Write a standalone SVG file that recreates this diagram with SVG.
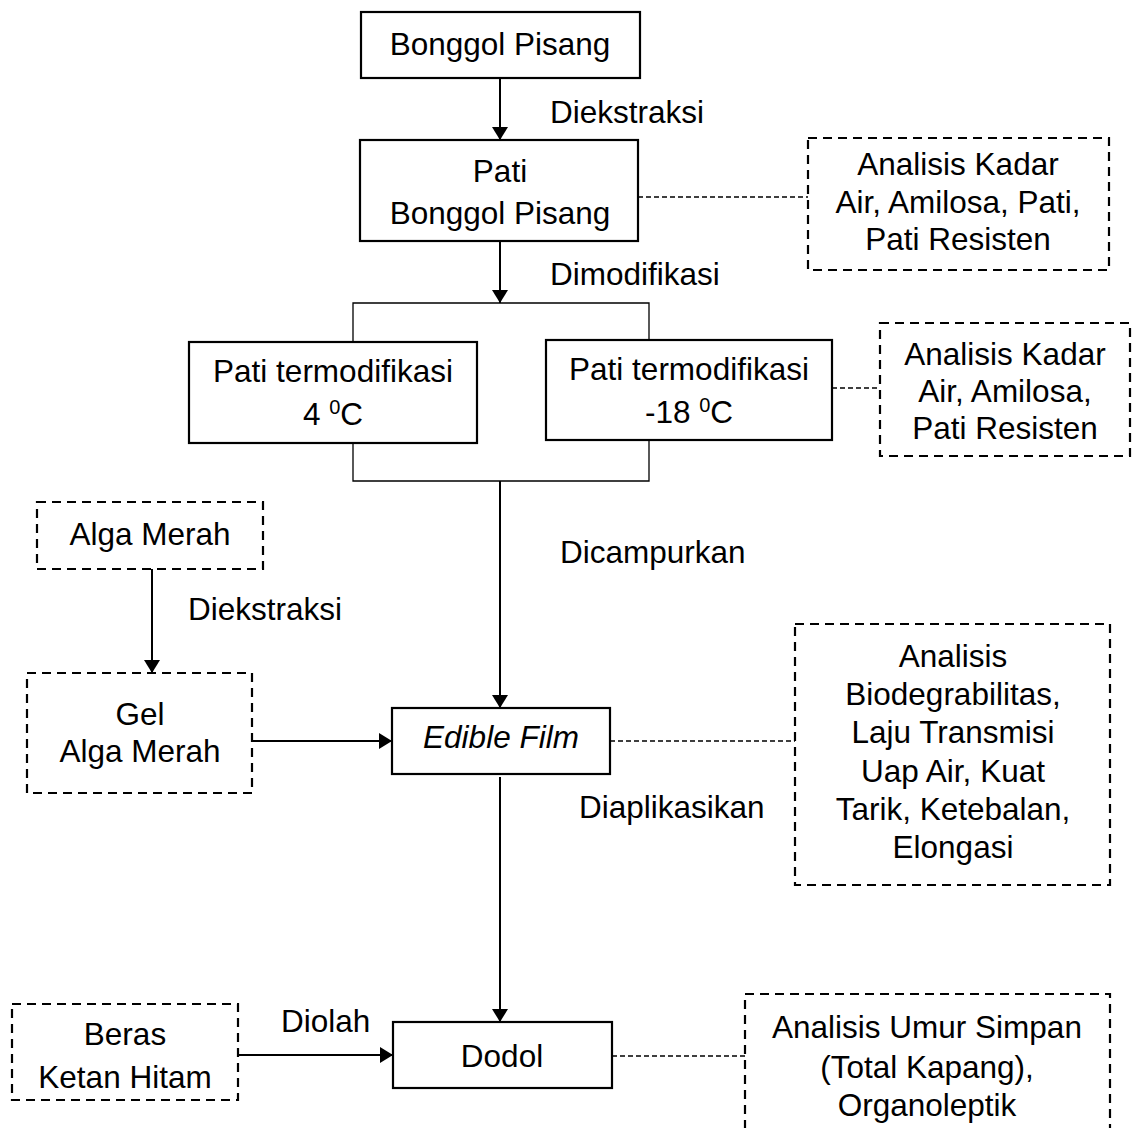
<svg xmlns="http://www.w3.org/2000/svg" width="1133" height="1128" viewBox="0 0 1133 1128">
<style>
text{font-family:"Liberation Sans",Arial,sans-serif;font-size:31.5px;fill:#000;text-anchor:middle}
.lbl{text-anchor:start}
.box{fill:#fff;stroke:#000;stroke-width:2.2}
.dbox{fill:#fff;stroke:#000;stroke-width:2.2;stroke-dasharray:9 6}
.ln{stroke:#000;stroke-width:2;fill:none}
.br{stroke:#000;stroke-width:1.3;fill:none}
.dot{stroke:#000;stroke-width:1.3;stroke-dasharray:5 3;fill:none}
.sup{font-size:20px}
</style>
<defs>
<marker id="ah" markerWidth="16" markerHeight="16" refX="13" refY="8" orient="auto" markerUnits="userSpaceOnUse">
<path d="M0,0 L13,8 L0,16 Z" fill="#000"/>
</marker>
</defs>
<g id="connectors">
<line class="ln" x1="500" y1="78" x2="500" y2="140" marker-end="url(#ah)"/>
<line class="ln" x1="500" y1="241" x2="500" y2="303" marker-end="url(#ah)"/>
<polyline class="br" points="353,342 353,303 649,303 649,340"/>
<polyline class="br" points="353,443 353,481 649,481 649,440"/>
<line class="ln" x1="500" y1="481" x2="500" y2="708" marker-end="url(#ah)"/>
<line class="ln" x1="152" y1="569" x2="152" y2="673" marker-end="url(#ah)"/>
<line class="ln" x1="252" y1="741" x2="392" y2="741" marker-end="url(#ah)"/>
<line class="ln" x1="500" y1="777" x2="500" y2="1022" marker-end="url(#ah)"/>
<line class="ln" x1="238" y1="1055" x2="393" y2="1055" marker-end="url(#ah)"/>
<line class="dot" x1="638" y1="197" x2="808" y2="197"/>
<line class="dot" x1="832" y1="388" x2="880" y2="388"/>
<line class="dot" x1="610" y1="741" x2="795" y2="741"/>
<line class="dot" x1="612" y1="1056" x2="745" y2="1056"/>
<text class="lbl" x="550" y="123">Diekstraksi</text>
<text class="lbl" x="550" y="285">Dimodifikasi</text>
<text class="lbl" x="560" y="563">Dicampurkan</text>
<text class="lbl" x="188" y="620">Diekstraksi</text>
<text class="lbl" x="579" y="818">Diaplikasikan</text>
<text class="lbl" x="281" y="1032">Diolah</text>
</g>
<g id="bonggol">
<rect class="box" x="361" y="12" width="279" height="66"/>
<text x="500" y="55">Bonggol Pisang</text>
</g>
<g id="pati">
<rect class="box" x="360" y="140" width="278" height="101"/>
<text x="500" y="182">Pati</text>
<text x="500" y="224">Bonggol Pisang</text>
</g>
<g id="analisis1">
<rect class="dbox" x="808" y="138" width="301" height="132"/>
<text x="958" y="175">Analisis Kadar</text>
<text x="958" y="213">Air, Amilosa, Pati,</text>
<text x="958" y="250">Pati Resisten</text>
</g>
<g id="pati4">
<rect class="box" x="189" y="342" width="288" height="101"/>
<text x="333" y="382">Pati termodifikasi</text>
<text x="333" y="425">4 <tspan class="sup" dy="-11">0</tspan><tspan dy="11">C</tspan></text>
</g>
<g id="pati18">
<rect class="box" x="546" y="340" width="286" height="100"/>
<text x="689" y="380">Pati termodifikasi</text>
<text x="689" y="423">-18 <tspan class="sup" dy="-11">0</tspan><tspan dy="11">C</tspan></text>
</g>
<g id="analisis2">
<rect class="dbox" x="880" y="323" width="250" height="133"/>
<text x="1005" y="365">Analisis Kadar</text>
<text x="1005" y="402">Air, Amilosa,</text>
<text x="1005" y="439"> Pati Resisten</text>
</g>
<g id="alga">
<rect class="dbox" x="37" y="502" width="226" height="67"/>
<text x="150" y="545">Alga Merah</text>
</g>
<g id="gel">
<rect class="dbox" x="27" y="673" width="225" height="120"/>
<text x="140" y="725">Gel</text>
<text x="140" y="762">Alga Merah</text>
</g>
<g id="edible">
<rect class="box" x="392" y="708" width="218" height="66"/>
<text x="501" y="748" font-style="italic">Edible Film</text>
</g>
<g id="analisis3">
<rect class="dbox" x="795" y="624" width="315" height="261"/>
<text x="953" y="667">Analisis</text>
<text x="953" y="705">Biodegrabilitas,</text>
<text x="953" y="743">Laju Transmisi</text>
<text x="953" y="782">Uap Air, Kuat</text>
<text x="953" y="820">Tarik, Ketebalan,</text>
<text x="953" y="858">Elongasi</text>
</g>
<g id="beras">
<rect class="dbox" x="12" y="1004" width="226" height="96"/>
<text x="125" y="1045">Beras</text>
<text x="125" y="1088">Ketan Hitam</text>
</g>
<g id="dodol">
<rect class="box" x="393" y="1022" width="219" height="66"/>
<text x="502" y="1067">Dodol</text>
</g>
<g id="analisis4">
<rect class="dbox" x="745" y="994" width="365" height="160"/>
<text x="927" y="1038">Analisis Umur Simpan</text>
<text x="927" y="1078">(Total Kapang),</text>
<text x="927" y="1116">Organoleptik</text>
</g>
</svg>
